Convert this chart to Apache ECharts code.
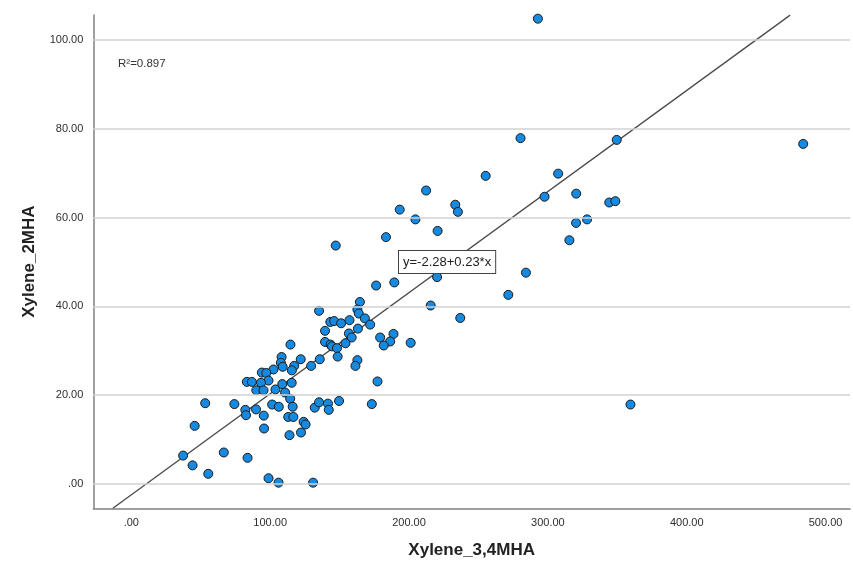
<!DOCTYPE html>
<html>
<head>
<meta charset="utf-8">
<script src="https://cdn.jsdelivr.net/npm/echarts@6/dist/echarts.min.js"></script>
<style>
html,body{margin:0;padding:0;background:#fff;}
#chart{width:853px;height:567px;}
</style>
</head>
<body>
<div id="chart"></div>
<script>
// Xylene_3,4MHA values (x)
const xVals = [220.2,176.3,189.4,215.6,236.9,164.6,135.2,162.8,163.8,168.2,
172.0,143.3,146.1,151.1,157.1,139.5,163.2,156.7,158.7,179.2,
188.8,186.4,181.8,201.2,139.5,143.5,144.5,148.1,154.2,148.6,
162.8,161.4,135.7,129.5,114.6,108.2,122.0,107.7,109.0,117.3,
115.6,102.4,94.0,97.2,98.8,93.4,83.2,86.8,90.0,95.2,
103.8,108.7,115.5,110.7,114.4,116.2,113.0,116.7,101.4,106.2,
95.4,95.6,89.8,82.1,82.6,74.2,53.2,45.6,37.3,44.1,
55.4,66.6,83.7,98.8,106.0,130.9,113.9,122.2,124.1,125.5,
132.1,135.2,141.6,142.2,149.6,173.2,177.3,147.2,183.4,204.6,
220.6,193.3,212.3,233.3,235.2,255.2,292.8,280.3,349.6,307.4,
297.6,320.4,344.2,348.6,328.2,320.3,315.5,284.2,271.5,359.5,
483.9];
// Xylene_2MHA values (y)
const yVals = [46.6,44.7,45.4,40.2,37.4,41.0,39.0,39.3,38.4,37.3,
35.9,36.5,36.7,36.2,36.9,34.5,35.0,33.9,33.0,33.0,
33.8,32.1,31.2,31.8,32.0,31.4,31.0,30.6,31.7,28.7,
27.9,26.6,28.1,26.6,31.4,28.6,28.1,27.3,26.4,26.6,
25.6,25.8,25.1,25.0,23.3,22.8,23.0,23.0,21.1,21.1,
21.3,22.5,22.8,20.6,19.2,17.4,15.1,15.1,17.9,17.4,
15.4,12.5,16.8,16.7,15.5,18.0,18.2,13.1,6.4,4.2,
2.3,7.1,5.9,1.3,0.3,0.3,11.0,11.6,14.0,13.4,
17.2,18.4,18.1,16.7,18.7,18.0,23.1,53.7,55.6,59.6,
57.0,61.8,66.1,62.9,61.3,69.4,104.8,77.9,77.5,69.9,
64.7,65.4,63.4,63.7,59.6,58.8,54.9,47.6,42.6,17.9,
76.6];
// fit line end points
const fitX = [-13.3, 474.5];
const fitY = [-5.47, 105.6];
// tick values
const xTicks = [0, 100, 200, 300, 400, 500];
const yTicks = [0, 20, 40, 60, 80, 100];
const xTitle = 'Xylene_3,4MHA';
const yTitle = 'Xylene_2MHA';
const r2Text = 'R\u00B2=0.897';
const eqText = 'y=-2.28+0.23*x';

const fmt = v => (v === 0 ? '.00' : v.toFixed(2));
const onTick = (v, step) => Math.abs(v / step - Math.round(v / step)) < 1e-6;
const FONT = '"Liberation Sans", Arial, sans-serif';

const chart = echarts.init(document.getElementById('chart'), null, {renderer: 'canvas'});
chart.setOption({
  animation: false,
  backgroundColor: '#fff',
  grid: {left: 93.3, right: 0, top: 15, bottom: 58.7, containLabel: false},
  xAxis: {
    type: 'value', min: -27.4, max: 517.6,
    splitLine: {show: false},
    axisTick: {show: false},
    axisLine: {show: true, onZero: false, lineStyle: {color: '#808080', width: 1.5}},
    axisLabel: {
      margin: 9, color: '#2e2e2e', fontSize: 11, fontFamily: FONT,
      formatter: v => (onTick(v, 100) ? fmt(v) : '')
    },
    name: xTitle, nameLocation: 'middle', nameGap: 34,
    nameTextStyle: {fontSize: 17, fontWeight: 'bold', color: '#222', fontFamily: FONT}
  },
  yAxis: {
    type: 'value', min: -5.47, max: 105.63,
    splitLine: {show: false},
    axisTick: {show: false},
    axisLine: {show: true, onZero: false, lineStyle: {color: '#808080', width: 1.5}},
    axisLabel: {
      margin: 10, color: '#2e2e2e', fontSize: 11, fontFamily: FONT,
      formatter: v => (onTick(v, 20) ? fmt(v) : '')
    },
    name: yTitle, nameLocation: 'middle', nameGap: 55, nameRotate: 90,
    nameTextStyle: {fontSize: 17, fontWeight: 'bold', color: '#222', fontFamily: FONT}
  },
  series: [
    {
      type: 'line', data: [], z: 1, silent: true,
      markLine: {
        silent: true, symbol: ['none', 'none'], label: {show: false},
        lineStyle: {color: '#d2d2d2', width: 1.6, type: 'solid'},
        data: yTicks.map(v => ({yAxis: v}))
      }
    },
    {
      type: 'line', z: 2, silent: true, clip: true,
      data: fitX.map((x, i) => [x, fitY[i]]),
      showSymbol: false, symbol: 'none',
      lineStyle: {color: '#4a4a4a', width: 1.3}
    },
    {
      type: 'scatter', z: 3,
      data: xVals.map((x, i) => [x, yVals[i]]),
      symbolSize: 9,
      itemStyle: {color: '#1689e0', borderColor: '#1a1a1a', borderWidth: 1, opacity: 1}
    }
  ],
  graphic: [
    {
      type: 'text', left: 118, top: 58, z: 10,
      style: {text: r2Text, fontSize: 11.5, fontFamily: FONT, fill: '#333'}
    },
    {
      type: 'text', left: 398, top: 250, z: 10,
      style: {
        text: eqText, fontSize: 13, fontFamily: FONT, fill: '#222',
        backgroundColor: '#fff', borderColor: '#444', borderWidth: 1,
        padding: [5, 4, 4, 4]
      }
    }
  ]
});
</script>
</body>
</html>
